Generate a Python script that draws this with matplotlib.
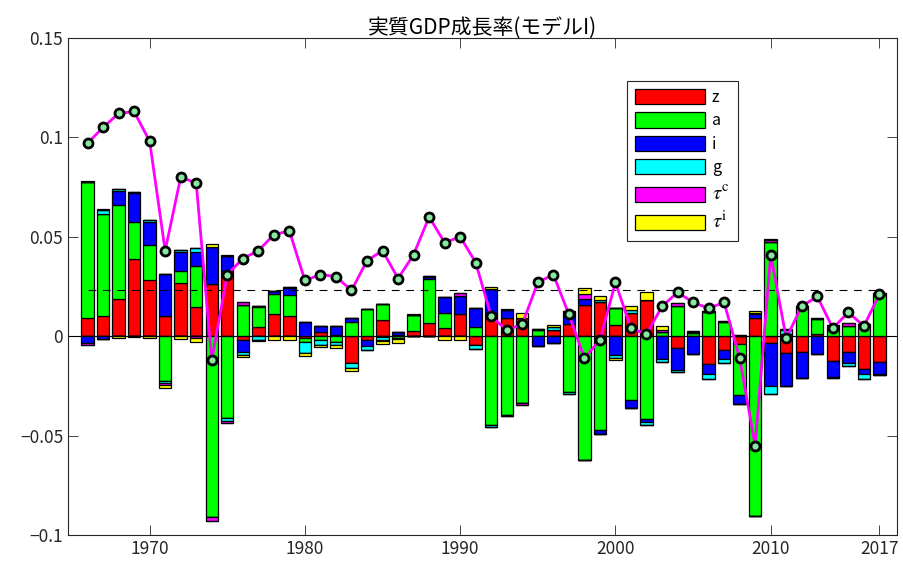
import numpy as np
import matplotlib.pyplot as plt

plt.rcParams['font.family'] = ['Noto Sans CJK JP', 'DejaVu Sans']
plt.rcParams['axes.unicode_minus'] = True
plt.rcParams['mathtext.fontset'] = 'stix'

years = np.arange(1966, 2018)

# 要因分解 (z, a, i, g, tau_c, tau_i)
z = [0.0089, 0.0102, 0.0186, 0.0387, 0.0280, 0.0102, 0.0265, 0.0148, 0.0260, 0.0329,
     -0.0020, 0.0047, 0.0109, 0.0100, -0.0010, 0.0022, 0.0005, -0.0134, -0.0017, 0.0080,
     0.0008, 0.0025, 0.0067, 0.0039, 0.0110, -0.0042, 0.0114, 0.0092, 0.0089, 0.0000,
     0.0030, 0.0059, 0.0156, 0.0173, 0.0055, 0.0114, 0.0181, 0.0000, -0.0062, 0.0000,
     -0.0141, -0.0070, -0.0037, 0.0092, -0.0034, -0.0087, -0.0079, 0.0013, -0.0124, -0.0082,
     -0.0163, -0.0129]
a = [0.0684, 0.0511, 0.0476, 0.0189, 0.0178, -0.0226, 0.0064, 0.0205, -0.0909, -0.0414,
     0.0156, 0.0100, 0.0102, 0.0106, -0.0020, -0.0017, -0.0028, 0.0069, 0.0136, 0.0080,
     -0.0008, 0.0080, 0.0218, 0.0075, 0.0000, 0.0044, -0.0448, -0.0397, -0.0335, 0.0030,
     0.0000, -0.0280, -0.0624, -0.0473, 0.0089, -0.0322, -0.0419, 0.0022, 0.0153, 0.0017,
     0.0121, 0.0072, -0.0260, -0.0905, 0.0474, 0.0013, 0.0151, 0.0072, 0.0047, 0.0050,
     0.0060, 0.0206]
i = [-0.0034, -0.0015, 0.0069, 0.0143, 0.0116, 0.0210, 0.0092, 0.0072, 0.0190, 0.0075,
     -0.0059, 0.0005, 0.0017, 0.0034, 0.0072, 0.0028, 0.0047, 0.0020, -0.0032, -0.0005,
     0.0015, 0.0000, 0.0013, 0.0084, 0.0090, 0.0099, 0.0121, 0.0042, 0.0000, -0.0050,
     -0.0034, 0.0042, 0.0029, -0.0017, -0.0096, -0.0039, -0.0015, -0.0117, -0.0106, -0.0090,
     -0.0050, -0.0045, -0.0045, 0.0018, -0.0216, -0.0163, -0.0129, -0.0090, -0.0080, -0.0055,
     -0.0029, -0.0059]
g = [0.0000, 0.0023, 0.0008, 0.0008, 0.0010, -0.0008, 0.0012, 0.0017, 0.0000, -0.0013,
     -0.0017, -0.0017, 0.0000, 0.0007, -0.0055, -0.0025, -0.0017, -0.0028, -0.0022, -0.0015,
     -0.0005, 0.0000, 0.0007, 0.0000, 0.0000, -0.0025, -0.0008, -0.0005, 0.0000, 0.0008,
     0.0015, -0.0012, 0.0000, 0.0008, -0.0012, 0.0020, -0.0013, -0.0012, -0.0013, 0.0005,
     -0.0025, -0.0022, 0.0000, 0.0005, -0.0039, 0.0017, 0.0000, 0.0000, -0.0004, -0.0012,
     -0.0022, -0.0008]
tc = [-0.0010, 0.0000, 0.0000, 0.0000, 0.0000, -0.0010, 0.0000, -0.0010, -0.0022, -0.0010,
      0.0017, 0.0000, 0.0000, 0.0000, 0.0000, 0.0000, 0.0000, 0.0000, 0.0000, -0.0005,
      0.0000, 0.0000, 0.0000, 0.0000, 0.0017, 0.0000, 0.0000, 0.0000, -0.0010, 0.0000,
      0.0000, 0.0027, 0.0027, 0.0000, 0.0000, 0.0000, 0.0000, 0.0010, 0.0012, 0.0005,
      0.0005, 0.0005, 0.0005, 0.0000, 0.0008, 0.0005, 0.0000, 0.0004, 0.0008, 0.0017,
      0.0000, 0.0012]
ti = [0.0008, 0.0005, -0.0010, -0.0005, -0.0008, -0.0017, -0.0012, -0.0018, 0.0012, 0.0005,
      -0.0010, -0.0005, -0.0017, -0.0017, -0.0017, -0.0012, -0.0017, -0.0013, 0.0000, -0.0012,
      -0.0020, 0.0005, 0.0000, -0.0020, -0.0020, 0.0000, 0.0013, 0.0005, 0.0025, 0.0000,
      0.0010, 0.0000, 0.0029, 0.0020, -0.0010, 0.0018, 0.0039, 0.0018, 0.0000, 0.0000,
      0.0000, 0.0000, 0.0003, 0.0012, 0.0008, 0.0000, 0.0000, 0.0000, 0.0000, 0.0000,
      0.0000, 0.0000]

# 実質GDP成長率
gdp = [0.097, 0.105, 0.112, 0.113, 0.098, 0.043, 0.080, 0.077, -0.012, 0.031,
       0.039, 0.043, 0.051, 0.053, 0.028, 0.031, 0.030, 0.023, 0.038, 0.043,
       0.029, 0.041, 0.060, 0.047, 0.050, 0.037, 0.010, 0.003, 0.006, 0.027,
       0.031, 0.011, -0.011, -0.002, 0.027, 0.004, 0.001, 0.015, 0.022, 0.017,
       0.014, 0.017, -0.011, -0.055, 0.041, -0.001, 0.015, 0.020, 0.004, 0.012,
       0.005, 0.021]
gdp_mean = 0.0231

names = ['z', 'a', 'i', 'g', r'$\tau^{\rm c}$', r'$\tau^{\rm i}$']
colors = ['#ff0000', '#00ff00', '#0000ff', '#00ffff', '#ff00ff', '#ffff00']
comps = np.array([z, a, i, g, tc, ti])

fig = plt.figure(figsize=(9.04, 5.72), dpi=100)
ax = fig.add_axes([0.0752, 0.0647, 0.9168, 0.869])

# 正と負を別々に積み上げる
pos_base = np.zeros(len(years))
neg_base = np.zeros(len(years))
handles = []
for vals, col, nm in zip(comps, colors, names):
    pos = np.where(vals > 0, vals, 0)
    neg = np.where(vals < 0, vals, 0)
    h = ax.bar(years, pos, 0.8, bottom=pos_base, color=col,
               edgecolor='k', linewidth=0.9, label=nm)
    ax.bar(years, neg, 0.8, bottom=neg_base, color=col,
           edgecolor='k', linewidth=0.9)
    pos_base += pos
    neg_base += neg
    handles.append(h)

ax.axhline(0, color='k', lw=0.8)
ax.plot([years[0], years[-1]], [gdp_mean, gdp_mean], 'k--', lw=0.8,
        dashes=(7, 6))
ax.plot(years, gdp, '-', color='#ff00ff', lw=2, marker='o', ms=6.5,
        mfc='#88e8a0', mec='k', mew=2)

ax.set_xlim(1964.74, 2018.12)
ax.set_ylim(-0.1, 0.15)
ax.set_xticks([1970, 1980, 1990, 2000, 2010, 2017])
ax.set_yticks([-0.1, -0.05, 0, 0.05, 0.1, 0.15])
ax.set_yticklabels(['\u22120.1', '\u22120.05', '0', '0.05', '0.1', '0.15'])
ax.tick_params(direction='in', top=True, right=True, length=7,
               width=0.6, labelsize=12.5, colors='#262626')
for s in ax.spines.values():
    s.set_color('#262626')
    s.set_linewidth(0.8)

ax.set_title('実質GDP成長率(モデルI)', fontsize=15, pad=3)

leg = ax.legend(handles=handles, loc='upper left',
                bbox_to_anchor=(0.665, 0.93), fontsize=11.5,
                handlelength=4.4, handleheight=1.1, labelspacing=0.4,
                handletextpad=0.4, borderpad=0.5, fancybox=False,
                framealpha=1, edgecolor='#262626')
leg.get_frame().set_linewidth(0.8)
for t in leg.get_texts()[4:]:
    t.set_fontsize(15)

fig.savefig('out.png', dpi=100)
